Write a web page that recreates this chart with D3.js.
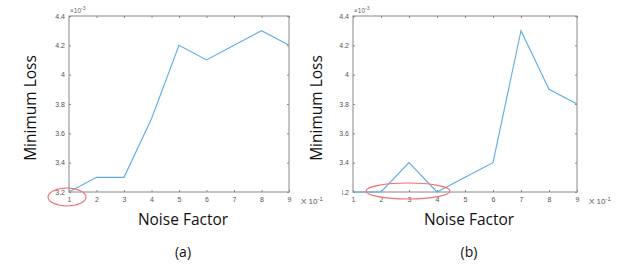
<!DOCTYPE html>
<html>
<head>
<meta charset="utf-8">
<script src="https://cdn.jsdelivr.net/npm/d3@7"></script>
<style>
  body { margin: 0; background: #fff; }
  .tick text { font-family: "Liberation Sans", Arial, sans-serif; font-size: 7px; fill: #555; }
  .big { font-family: "Open Sans", Lato, sans-serif; fill: #111; }
</style>
</head>
<body>
<div id="chart"></div>
<script>
var noise = [1, 2, 3, 4, 5, 6, 7, 8, 9]
var lossA = [3.2, 3.3, 3.3, 3.7, 4.2, 4.1, 4.2, 4.3, 4.2]
var lossB = [3.2, 3.2, 3.4, 3.2, 3.3, 3.4, 4.3, 3.9, 3.8]
var yTicks = [3.2, 3.4, 3.6, 3.8, 4, 4.2, 4.4]
var panels = [
  {name: "(a)", values: lossA, x0: 69, x1: 289, mark: {cx: 67, cy: 197, rx: 19, ry: 9}, ylab: 36},
  {name: "(b)", values: lossB, x0: 353, x1: 577, mark: {cx: 408, cy: 191, rx: 42, ry: 8}, ylab: 322}
]

var width = 622, height = 273
var top0 = 16, bottom0 = 192
var svg = d3.select("#chart").append("svg").attr("width", width).attr("height", height)

panels.forEach(function(p, idx) {
  var g = svg.append("g")
  var x = d3.scaleLinear().domain([1, 9]).range([p.x0, p.x1])
  var y = d3.scaleLinear().domain([3.2, 4.4]).range([bottom0, top0])

  // box
  g.append("rect").attr("x", p.x0).attr("y", top0).attr("width", p.x1 - p.x0).attr("height", bottom0 - top0)
    .attr("fill", "none").attr("stroke", "#888").attr("stroke-width", 1)

  var ax = function(a) { a.select(".domain").remove(); a.selectAll(".tick line").attr("stroke", "#888") }
  g.append("g").attr("transform", "translate(0," + bottom0 + ")")
    .call(d3.axisBottom(x).tickValues(noise).tickSize(-2).tickPadding(5)).call(ax)
  g.append("g").attr("transform", "translate(0," + top0 + ")")
    .call(d3.axisTop(x).tickValues(noise).tickSize(-2).tickFormat("")).call(ax)
  g.append("g").attr("transform", "translate(" + p.x0 + ",0)")
    .call(d3.axisLeft(y).tickValues(yTicks).tickSize(-2).tickPadding(4).tickFormat(d3.format("~g"))).call(ax)
  g.append("g").attr("transform", "translate(" + p.x1 + ",0)")
    .call(d3.axisRight(y).tickValues(yTicks).tickSize(-2).tickFormat("")).call(ax)

  g.append("text").attr("x", p.x0 + 1).attr("y", top0 - 3).attr("font-family", "Liberation Sans, sans-serif")
    .attr("font-size", 6.5).attr("fill", "#666").html("×10<tspan dy='-3' font-size='5'>-3</tspan>")

  g.append("path").datum(p.values)
    .attr("fill", "none").attr("stroke", "#5dade2").attr("stroke-width", 1.1)
    .attr("d", d3.line().x(function(d, i) { return x(noise[i]) }).y(function(d) { return y(d) }))

  g.append("text").attr("x", p.x1 + 12).attr("y", bottom0 + 12).attr("font-family", "Liberation Sans, sans-serif")
    .attr("font-size", 8).attr("fill", "#555").html("X 10<tspan dy='-3' font-size='6'>-1</tspan>")

  g.append("text").attr("class", "big").attr("font-size", 15.5).attr("text-anchor", "middle")
    .attr("transform", "translate(" + p.ylab + ",108) rotate(-90)").text("Minimum Loss")
  g.append("text").attr("class", "big").attr("font-size", 15.5).attr("text-anchor", "middle")
    .attr("x", (p.x0 + p.x1) / 2 + 4).attr("y", 225).text("Noise Factor")
  g.append("text").attr("class", "big").attr("font-size", 14).attr("text-anchor", "middle")
    .attr("x", (p.x0 + p.x1) / 2 + 4).attr("y", 257).text(p.name)

  g.append("ellipse").attr("cx", p.mark.cx).attr("cy", p.mark.cy).attr("rx", p.mark.rx).attr("ry", p.mark.ry)
    .attr("fill", "none").attr("stroke", "#f07070").attr("stroke-width", 1.1)
})

// the second picture was pasted over the first one and hides the "3" of its own 3.2 label
svg.append("rect").attr("x", 325).attr("y", 186).attr("width", 17).attr("height", 11).attr("fill", "#fff")
</script>
</body>
</html>
